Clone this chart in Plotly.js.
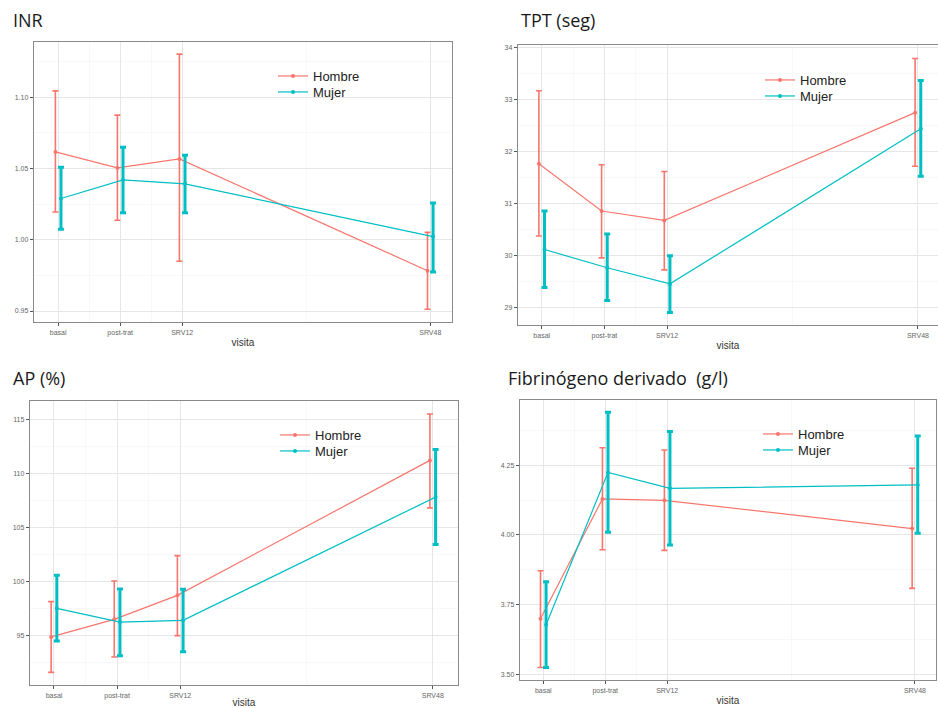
<!DOCTYPE html>
<html><head><meta charset="utf-8">
<script src="https://cdn.plot.ly/plotly-3.0.1.min.js"></script>
<style>body{margin:0;background:#fff}#chart{width:938px;height:708px}</style>
</head><body><div id="chart"></div>
<script>
// ---- categories ----
const visitPos = [0, 1, 2, 6];
const visitLabels = ['basal', 'post-trat', 'SRV12', 'SRV48'];
const groupNames = ['Hombre', 'Mujer'];
const panelTitles = ['INR', 'TPT (seg)', 'AP (%)', 'Fibrinógeno derivado&nbsp; (g/l)'];

// ---- INR ----
const inrHombreMean  = [1.0616, 1.0504, 1.0567, 0.9783];
const inrHombreUpper = [1.1044, 1.0874, 1.1302, 1.0052];
const inrHombreLower = [1.0195, 1.0137, 0.9849, 0.9512];
const inrMujerMean   = [1.0289, 1.0420, 1.0392, 1.0022];
const inrMujerUpper  = [1.0509, 1.0649, 1.0593, 1.0258];
const inrMujerLower  = [1.0073, 1.0190, 1.0190, 0.9774];
const inrTicks = [0.95, 1.00, 1.05, 1.10];

// ---- TPT ----
const tptHombreMean  = [31.77, 30.86, 30.68, 32.75];
const tptHombreUpper = [33.17, 31.75, 31.62, 33.79];
const tptHombreLower = [30.38, 29.96, 29.73, 31.72];
const tptMujerMean   = [30.12, 29.77, 29.46, 32.44];
const tptMujerUpper  = [30.86, 30.42, 30.00, 33.37];
const tptMujerLower  = [29.39, 29.14, 28.91, 31.53];
const tptTicks = [29, 30, 31, 32, 33, 34];

// ---- AP ----
const apHombreMean  = [94.85, 96.48, 98.70, 111.2];
const apHombreUpper = [98.12, 100.03, 102.38, 115.5];
const apHombreLower = [91.57, 92.99, 94.97, 106.8];
const apMujerMean   = [97.50, 96.23, 96.39, 107.8];
const apMujerUpper  = [100.56, 99.29, 99.26, 112.2];
const apMujerLower  = [94.47, 93.12, 93.49, 103.4];
const apTicks = [95, 100, 105, 110, 115];

// ---- Fibrinógeno ----
const fibHombreMean  = [3.700, 4.129, 4.124, 4.023];
const fibHombreUpper = [3.872, 4.312, 4.304, 4.239];
const fibHombreLower = [3.526, 3.947, 3.945, 3.809];
const fibMujerMean   = [3.679, 4.224, 4.167, 4.179];
const fibMujerUpper  = [3.833, 4.439, 4.370, 4.354];
const fibMujerLower  = [3.526, 4.010, 3.964, 4.006];
const fibTicks = [3.50, 3.75, 4.00, 4.25];

const colors = ['#F8766D', '#00BFC4'];
const W = 938, H = 708;

const panels = [
  {series: [[inrHombreMean, inrHombreUpper, inrHombreLower], [inrMujerMean, inrMujerUpper, inrMujerLower]],
   ticks: inrTicks, fmt: v => v.toFixed(2), box: [34, 452, 42, 322], xr: [-0.39, 6.35], yr: [0.9423, 1.1387],
   leg: [[273, 61], [273, 77]], title: [11, 20]},
  {series: [[tptHombreMean, tptHombreUpper, tptHombreLower], [tptMujerMean, tptMujerUpper, tptMujerLower]],
   ticks: tptTicks, fmt: v => String(v), box: [518, 938, 45, 325], xr: [-0.378, 6.32], yr: [28.67, 34.05],
   leg: [[760, 65], [760, 81]], title: [519, 20]},
  {series: [[apHombreMean, apHombreUpper, apHombreLower], [apMujerMean, apMujerUpper, apMujerLower]],
   ticks: apTicks, fmt: v => String(v), box: [30, 458, 401, 685], xr: [-0.38, 6.40], yr: [90.4, 116.7],
   leg: [[275, 420], [275, 436]], title: [11, 378]},
  {series: [[fibHombreMean, fibHombreUpper, fibHombreLower], [fibMujerMean, fibMujerUpper, fibMujerLower]],
   ticks: fibTicks, fmt: v => v.toFixed(2), box: [520, 936, 400, 680], xr: [-0.376, 6.34], yr: [3.481, 4.483],
   leg: [[758, 419], [758, 435]], title: [506, 378]}
];

const dodge = 0.045;
const traces = [];
const layout = {
  width: W, height: H, margin: {l: 0, r: 0, t: 0, b: 0},
  paper_bgcolor: '#fff', plot_bgcolor: '#fff', showlegend: true,
  font: {family: 'Liberation Sans, Arial, sans-serif', color: '#333'},
  annotations: []
};

let legCount = 0;
panels.forEach((p, i) => {
  const n = i + 1;
  const xa = 'xaxis' + (n === 1 ? '' : n), ya = 'yaxis' + (n === 1 ? '' : n);
  const xr = 'x' + (n === 1 ? '' : n), yr = 'y' + (n === 1 ? '' : n);
  p.series.forEach((s, g) => {
    const [mean, upper, lower] = s;
    legCount++;
    const legName = 'legend' + (legCount === 1 ? '' : legCount);
    traces.push({
      type: 'scatter', mode: 'lines+markers', name: groupNames[g],
      x: visitPos.map(v => v + (g === 0 ? -dodge : dodge)),
      y: mean, xaxis: xr, yaxis: yr, legend: legName,
      line: {color: colors[g], width: 1.2},
      marker: {color: colors[g], size: 4},
      error_y: {type: 'data', symmetric: false,
        array: upper.map((u, k) => u - mean[k]),
        arrayminus: lower.map((l, k) => mean[k] - l),
        color: colors[g], thickness: g === 0 ? 1.6 : 3, width: 3}
    });
    layout[legName] = {
      x: p.leg[g][0] / W, y: 1 - p.leg[g][1] / H, xanchor: 'left', yanchor: 'top',
      bgcolor: 'rgba(255,255,255,0)', font: {size: 13, color: '#222'},
      itemwidth: 30
    };
  });
  const [x0, x1, y0, y1] = p.box;
  layout[xa] = {
    domain: [x0 / W, x1 / W], range: p.xr, anchor: yr,
    tickmode: 'array', tickvals: visitPos, ticktext: visitLabels,
    tickfont: {size: 7, color: '#666'}, ticks: 'outside', ticklen: 3, tickcolor: '#555',
    showgrid: true, gridcolor: '#e6e6e6', gridwidth: 1,
    minor: {tickvals: [0.5, 1.5, 4], showgrid: true, gridcolor: '#f3f3f3', gridwidth: 0.6, ticks: ''},
    showline: true, mirror: true, linecolor: '#8a8a8a', linewidth: 1.2,
    zeroline: false, fixedrange: true,
    title: {text: 'visita', font: {size: 10, color: '#333'}, standoff: 3}
  };
  const step = p.ticks[1] - p.ticks[0];
  layout[ya] = {
    domain: [1 - y1 / H, 1 - y0 / H], range: p.yr, anchor: xr,
    tickmode: 'array', tickvals: p.ticks, ticktext: p.ticks.map(p.fmt),
    tickfont: {size: 7, color: '#666'}, ticks: 'outside', ticklen: 3, tickcolor: '#555',
    showgrid: true, gridcolor: '#e6e6e6', gridwidth: 1,
    minor: {tickvals: p.ticks.map(t => t + step / 2).concat([p.ticks[0] - step / 2]), showgrid: true, gridcolor: '#f3f3f3', gridwidth: 0.6, ticks: ''},
    showline: true, mirror: true, linecolor: '#8a8a8a', linewidth: 1.2,
    zeroline: false, fixedrange: true
  };
  layout.annotations.push({
    xref: 'paper', yref: 'paper', x: p.title[0] / W, y: 1 - p.title[1] / H,
    xanchor: 'left', yanchor: 'middle', showarrow: false, text: panelTitles[i],
    font: {family: 'Open Sans, Lato, sans-serif', size: 18, color: '#1a1a1a'}
  });
});

Plotly.newPlot('chart', traces, layout, {displayModeBar: false, staticPlot: true});
</script>
</body></html>
